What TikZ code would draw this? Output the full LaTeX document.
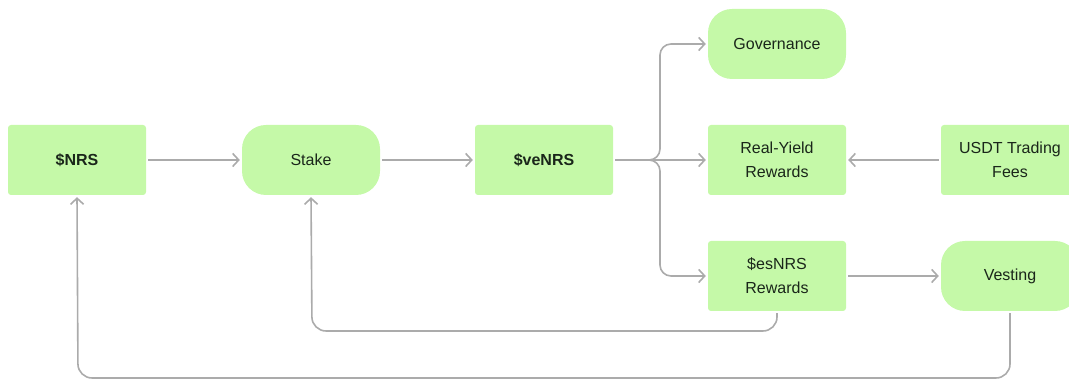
\documentclass[tikz,border=0pt]{standalone}
\usepackage{fontspec}
\setmainfont{Liberation Sans}
\usetikzlibrary{arrows.meta}
\definecolor{boxfill}{HTML}{C5F9A8}
\definecolor{linegray}{HTML}{ABABAB}
\definecolor{txt}{HTML}{1A261A}
\begin{document}
\begin{tikzpicture}[x=1pt,y=1pt,
  base/.style={fill=boxfill, draw=none, minimum width=138pt, minimum height=70pt, align=center, text=txt, font=\fontsize{16}{24}\selectfont, inner sep=0pt},
  sqbox/.style={base, rounded corners=3pt},
  pill/.style={base, rounded corners=24pt},
  conn/.style={draw=linegray, line width=1.6pt, -{Straight Barb[length=6pt,width=13pt,line width=1.6pt]}},
  loop/.style={conn, rounded corners=14pt}]
\useasboundingbox (0,0) rectangle (1069,379);
\node[sqbox] (nrs) at (77,219) {\textbf{\$NRS}};
\node[pill] (stake) at (311,219) {Stake};
\node[sqbox] (venrs) at (544,219) {\textbf{\$veNRS}};
\node[pill] (gov) at (777,335) {Governance};
\node[sqbox] (ry) at (777,219) {Real-Yield\\Rewards};
\node[sqbox] (usdt) at (1010,219) {USDT Trading\\Fees};
\node[sqbox] (es) at (777,103) {\$esNRS\\Rewards};
\node[pill] (vest) at (1010,103) {Vesting};
\coordinate (fork) at (660,219);
\draw[conn, shorten <=2pt, shorten >=2pt] (nrs) -- (stake);
\draw[conn, shorten <=2pt, shorten >=2pt] (stake) -- (venrs);
\draw[conn, rounded corners=11pt, shorten <=2pt, shorten >=2pt] (venrs.east) -- (fork) |- (gov.west);
\draw[conn, shorten <=2pt, shorten >=2pt] (venrs.east) -- (ry.west);
\draw[conn, rounded corners=11pt, shorten <=2pt, shorten >=2pt] (venrs.east) -- (fork) |- (es.west);
\draw[conn, shorten <=2pt, shorten >=2pt] (usdt) -- (ry);
\draw[conn, shorten <=2pt, shorten >=2pt] (es) -- (vest);
\coordinate (l1) at (777,48);
\coordinate (l2) at (312,48);
\draw[loop, shorten <=2pt, shorten >=2pt] (es.south) -- (l1) -- (l2) -- (stake.south);
\coordinate (m1) at (1010,1);
\coordinate (m2) at (78,1);
\draw[loop, shorten <=2pt, shorten >=2pt] (vest.south) -- (m1) -- (m2) -- (nrs.south);
\end{tikzpicture}
\end{document}
